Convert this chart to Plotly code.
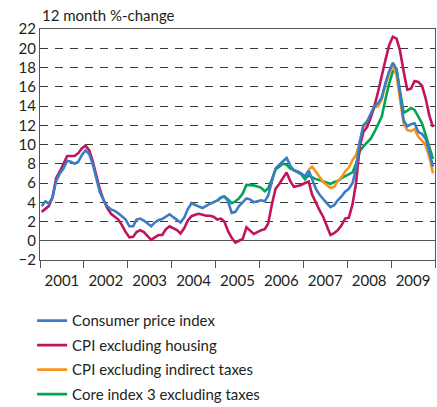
import plotly.graph_objects as go
import pandas as pd

# Monthly observations, Jan 2001 - Dec 2009 (12 month %-change)
months = pd.date_range("2001-01-01", periods=108, freq="MS") + pd.Timedelta(days=14)

cpi = [3.6, 4.1, 3.85, 4.5, 6.2, 7.0, 7.5, 8.3, 8.2, 8.0, 8.2, 8.9,
       9.4, 9.0, 8.0, 6.4, 5.0, 4.2, 3.6, 3.25, 3.1, 2.85, 2.5, 2.2,
       1.5, 1.5, 2.2, 2.3, 2.1, 1.8, 1.5, 1.9, 2.15, 2.25, 2.5, 2.75,
       2.45, 2.2, 1.9, 2.4, 3.3, 3.9, 3.7, 3.55, 3.4, 3.65, 3.85, 4.0,
       4.2, 4.5, 4.6, 4.1, 2.9, 3.0, 3.6, 4.0, 4.4, 4.3, 4.0, 4.1,
       4.2, 4.1, 4.7, 6.2, 7.5, 7.9, 8.2, 8.6, 7.8, 7.3, 7.2, 7.0,
       6.7, 7.3, 6.4, 5.4, 4.8, 4.3, 3.9, 3.5, 3.7, 4.2, 4.6, 5.1,
       5.4, 6.0, 7.5, 10.3, 12.0, 12.4, 13.2, 14.0, 14.3, 14.9, 16.4, 17.6,
       18.5, 17.8, 15.4, 12.5, 11.9, 12.1, 12.2, 11.3, 11.1, 10.6, 9.2, 7.7]

cpi_ex_housing = [3.0, 3.3, 3.6, 4.5, 6.5, 7.2, 8.0, 8.8, 8.8, 8.8, 9.1, 9.6,
                  9.9, 9.4, 8.3, 6.7, 5.3, 4.2, 3.4, 2.8, 2.5, 2.2, 1.6, 0.9,
                  0.35, 0.4, 0.9, 1.1, 0.9, 0.5, 0.1, 0.35, 0.6, 0.6, 1.2, 1.5,
                  1.3, 1.1, 0.75, 1.3, 2.1, 2.55, 2.7, 2.8, 2.7, 2.6, 2.6, 2.5,
                  2.2, 2.3, 2.0, 1.0, 0.3, -0.2, 0.0, 0.2, 1.4, 1.1, 0.7, 0.9,
                  1.1, 1.2, 1.8, 3.8, 5.4, 5.9, 6.5, 7.1, 6.2, 5.6, 5.7, 5.8,
                  6.0, 6.15, 4.8, 3.9, 3.2, 2.5, 1.5, 0.6, 0.8, 1.1, 1.6, 2.3,
                  2.4, 3.8, 6.0, 9.8, 11.3, 11.8, 12.8, 14.0, 15.5, 17.3, 18.8, 20.3,
                  21.2, 21.0, 19.8, 17.6, 15.7, 15.8, 16.6, 16.5, 16.1, 14.8, 13.0, 11.8]

# CPI excluding indirect taxes: from Feb 2007
cpi_ex_taxes = [None] * 73 + [
    7.4, 7.7, 7.2, 6.7, 6.1, 5.8, 5.5, 5.6, 6.2, 6.6, 7.2,
    7.6, 8.4, 8.9, 10.2, 11.8, 12.2, 13.0, 13.8, 14.0, 14.7, 16.2, 17.4,
    18.2, 17.2, 14.8, 12.2, 11.5, 11.4, 11.6, 10.8, 10.4, 9.9, 8.7, 7.0]

# Core index 3 excluding taxes: from Jan 2005
core3 = [None] * 48 + [
    4.1, 4.5, 4.6, 4.3, 3.9, 4.1, 4.4, 4.9, 5.8, 5.8, 5.75, 5.65,
    5.5, 5.15, 5.45, 6.4, 7.4, 7.7, 8.0, 7.9, 7.5, 7.35, 7.15, 6.9,
    6.4, 6.8, 6.6, 6.4, 6.3, 6.15, 6.0, 5.9, 6.1, 6.2, 6.5, 6.7,
    6.9, 7.1, 8.0, 9.3, 9.8, 10.2, 10.6, 11.3, 12.1, 12.9, 14.7, 16.3,
    17.6, 17.8, 15.6, 13.3, 13.5, 13.8, 13.6, 12.9, 12.2, 11.0, 9.6, 8.5]

names = ["Consumer price index", "CPI excluding housing",
         "CPI excluding indirect taxes", "Core index 3 excluding taxes"]
colors = ["#3b7cc4", "#c0145c", "#f7941d", "#00a651"]
series = [cpi, cpi_ex_housing, cpi_ex_taxes, core3]
draw_order = [3, 2, 1, 0]

y_ticks = list(range(-2, 23, 2))
font = "Lato, 'Open Sans', sans-serif"

fig = go.Figure()
for k in draw_order:
    fig.add_trace(go.Scatter(
        x=months, y=series[k], name=names[k], mode="lines",
        line=dict(color=colors[k], width=2.6),
        legendrank=k + 1, legendgroup=f"g{k}",
        connectgaps=False,
    ))

fig.update_layout(
    width=437, height=407,
    margin=dict(l=40, r=2, t=29, b=147, autoexpand=False),
    paper_bgcolor="white", plot_bgcolor="white",
    font=dict(family=font, size=15, color="#231f20"),
    showlegend=True,
    legend=dict(x=-0.02, xanchor="left", y=-0.192, yanchor="top",
                tracegroupgap=2, font=dict(size=15), bgcolor="rgba(0,0,0,0)"),
    annotations=[dict(text="12 month %-change", xref="paper", yref="paper",
                      x=0, y=1, xanchor="left", yanchor="bottom", yshift=3,
                      showarrow=False, font=dict(size=15))],
)
fig.update_xaxes(
    type="date", range=["2001-01-01", "2010-01-01"],
    dtick="M12", tick0="2001-01-01", tickformat="%Y", ticklabelmode="period",
    ticks="outside", ticklen=7, tickcolor="#555", tickwidth=1.2,
    showgrid=False, showline=True, linecolor="#555", linewidth=1.2, mirror=True,
)
fig.update_yaxes(
    range=[-2, 22], tickvals=y_ticks, ticks="",
    showgrid=True, gridcolor="#3a3a3a", gridwidth=1.3, griddash="8px,7px",
    zeroline=True, zerolinecolor="#555", zerolinewidth=1.3,
    showline=True, linecolor="#555", linewidth=1.2, mirror=True,
)

fig.write_html("out.html", config={"displayModeBar": False},
               post_script="document.body.style.margin='0';")
